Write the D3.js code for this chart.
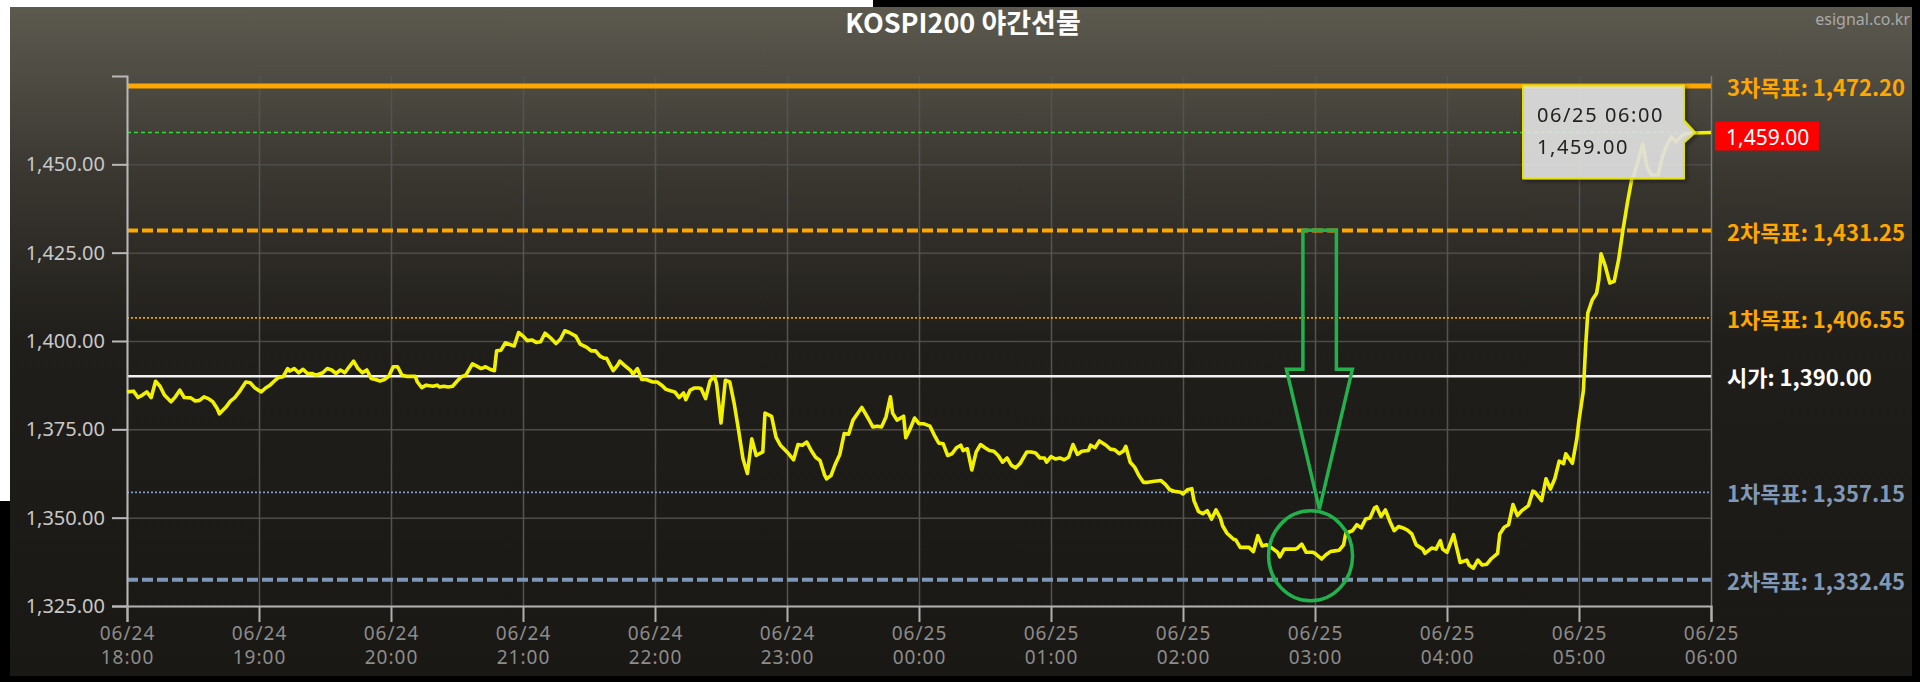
<!DOCTYPE html>
<html>
<head>
<meta charset="utf-8">
<script src="https://cdn.jsdelivr.net/npm/d3@7"></script>
<style>
    body { margin: 0; background: #000; overflow: hidden; }
    svg { display: block; }
</style>
</head>
<body>
<svg id="chart" width="1920" height="682"></svg>
<script>
const chartTitle = "KOSPI200 야간선물";
const watermark = "esignal.co.kr";
const sessionStart = new Date(2024, 5, 24, 18, 0);
const sessionEnd = new Date(2024, 5, 25, 6, 0);
const priceTicks = [1325, 1350, 1375, 1400, 1425, 1450];
const priceTop = 1475;

// target / reference levels (top to bottom)
const targetNames = ["3차목표", "2차목표", "1차목표", "시가", "1차목표", "2차목표"];
const targetValues = [1472.20, 1431.25, 1406.55, 1390.00, 1357.15, 1332.45];
const lastPrice = 1459.00;

// [minutes after 18:00, price]
const pricePoints = [
    [0,1385.6],[3,1385.8],[5,1384.0],[7,1384.7],[9,1385.6],[11,1384.0],[13,1388.6],[15,1387.2],[17,1384.7],[20,1382.8],[22,1384.2],[24,1386.1],[26,1384.0],[29,1383.9],[31,1383.0],[33,1383.2],[35,1384.2],[37,1383.7],[39,1382.8],[41,1380.9],[42,1379.4],[45,1381.3],[47,1383.0],[49,1384.0],[51,1385.6],[54,1388.4],[56,1388.2],[58,1386.8],
    [61,1385.6],[63,1386.7],[65,1387.5],[67,1388.7],[69,1389.7],[71,1389.9],[73,1392.2],[74,1391.5],[76,1392.2],[78,1391.0],[80,1392.0],[82,1390.8],[84,1390.8],[86,1390.3],[89,1391.0],[91,1392.2],[93,1391.8],[95,1390.8],[97,1391.8],[99,1391.0],[101,1392.7],[103,1394.3],[105,1392.2],[107,1391.0],[109,1391.8],[111,1389.4],[113,1389.1],[115,1388.7],[117,1389.1],[119,1390.0],
    [121,1392.7],[123,1392.7],[125,1390.3],[127,1390.0],[131,1390.0],[132,1388.4],[134,1386.8],[136,1387.5],[139,1387.2],[141,1387.5],[142,1387.0],[144,1387.2],[146,1387.0],[148,1387.2],[150,1388.6],[152,1389.9],[154,1390.3],[157,1393.5],[159,1392.9],[161,1392.2],[163,1392.7],[165,1392.0],[167,1391.6],[168,1397.2],[170,1397.4],[172,1399.5],[174,1399.0],[176,1398.6],[178,1402.4],
    [180,1401.4],[182,1400.1],[184,1400.3],[186,1399.6],[188,1399.8],[190,1402.2],[193,1400.6],[195,1399.3],[197,1400.5],[199,1402.9],[201,1402.4],[204,1401.4],[206,1399.1],[209,1398.2],[211,1397.2],[213,1397.2],[215,1395.7],[217,1395.1],[218,1395.1],[221,1391.6],[223,1393.2],[224,1394.3],[226,1393.2],[229,1391.6],[230,1390.6],[232,1392.2],[234,1389.1],[236,1389.1],[239,1388.4],
    [241,1388.4],[243,1387.5],[245,1386.3],[247,1385.9],[249,1385.6],[251,1384.0],[253,1385.3],[254,1383.4],[256,1386.1],[258,1386.7],[260,1386.7],[261,1386.5],[263,1383.7],[265,1388.7],[267,1390.0],[268,1387.8],[270,1376.8],[272,1388.9],[274,1388.4],[276,1382.3],[278,1374.7],[280,1366.7],[282,1362.5],[284,1372.3],[286,1367.6],[289,1368.6],[290,1379.6],[293,1378.7],[295,1372.8],[297,1370.5],
    [300,1368.6],[303,1366.4],[305,1370.7],[307,1370.5],[309,1371.4],[311,1369.0],[313,1367.1],[315,1366.2],[317,1362.2],[318,1361.0],[320,1361.9],[322,1365.2],[324,1367.9],[326,1373.8],[328,1373.6],[330,1377.6],[332,1379.4],[334,1381.2],[337,1378.0],[339,1375.7],[341,1375.9],[343,1375.7],[345,1378.5],[347,1384.2],[348,1379.6],[350,1377.6],[353,1378.7],[354,1372.6],[356,1375.2],[358,1378.2],
    [360,1376.6],[362,1376.6],[365,1375.9],[367,1373.3],[369,1371.1],[371,1370.9],[373,1367.6],[375,1368.1],[377,1369.8],[379,1370.5],[380,1369.0],[382,1369.5],[384,1363.5],[386,1368.6],[388,1370.7],[390,1369.8],[392,1369.0],[394,1368.8],[396,1367.6],[398,1365.7],[400,1366.9],[402,1364.8],[404,1364.1],[406,1365.4],[409,1368.6],[411,1368.6],[413,1368.3],[415,1366.9],[417,1366.9],[418,1365.7],
    [420,1367.3],[422,1366.6],[424,1366.9],[426,1366.4],[428,1367.1],[430,1370.7],[432,1367.9],[434,1368.8],[437,1369.0],[438,1370.5],[440,1369.8],[442,1371.7],[445,1370.5],[447,1369.4],[449,1369.2],[451,1368.1],[453,1368.9],[454,1370.2],[456,1365.7],[458,1364.3],[460,1361.9],[462,1360.0],[464,1360.0],[467,1360.3],[470,1360.5],[472,1359.4],[474,1357.9],[476,1357.5],[479,1357.2],
    [480,1356.7],[482,1357.9],[484,1358.2],[485,1354.8],[487,1351.8],[489,1351.1],[491,1352.0],[493,1349.6],[495,1352.2],[497,1349.9],[498,1347.7],[500,1345.6],[503,1343.9],[504,1343.7],[506,1341.6],[508,1341.6],[510,1341.6],[512,1340.4],[514,1344.9],[516,1342.0],[518,1342.3],[520,1341.6],[523,1340.2],[524,1338.9],[526,1341.1],[529,1341.1],[531,1341.1],[532,1341.4],[534,1342.5],[536,1340.2],[539,1340.2],
    [540,1339.9],[543,1338.3],[545,1339.5],[547,1340.4],[549,1340.6],[551,1340.8],[553,1342.3],[554,1345.6],[557,1346.3],[559,1348.0],[561,1347.1],[563,1349.6],[565,1349.9],[567,1352.7],[568,1353.1],[570,1350.3],[572,1352.2],[574,1349.0],[576,1346.3],[578,1347.5],[580,1347.1],[582,1346.5],[584,1345.4],[586,1342.3],[589,1341.1],[590,1339.9],[593,1341.4],[595,1341.1],[597,1343.5],[598,1341.1],
    [600,1340.2],[603,1345.2],[604,1342.5],[606,1337.3],[609,1338.0],[610,1336.6],[612,1335.7],[614,1338.0],[616,1336.6],[618,1336.8],[620,1338.3],[623,1339.9],[624,1345.4],[626,1347.3],[628,1348.0],[630,1353.7],[632,1350.6],[634,1352.0],[637,1353.4],[639,1357.5],[640,1357.2],[643,1354.8],[645,1361.0],[647,1358.1],[649,1361.0],[651,1366.0],[653,1365.3],[654,1368.1],[657,1365.4],[659,1372.3],
    [660,1377.6],[662,1386.0],[663,1398.4],[664,1407.9],[666,1411.6],[668,1413.5],[669,1417.3],[670,1424.7],[672,1421.1],[674,1416.4],[676,1416.9],[678,1423.0],[680,1431.5],[682,1439.1],[684,1445.9],[685,1447.0],[689,1455.7],[691,1449.0],[693,1447.0],[696,1447.0],[698,1452.4],[700,1455.5],[702,1457.8],[704,1456.4],[707,1458.2],[709,1458.8],[720,1459.0]
];

// hand-drawn annotation anchors (minutes after 18:00, price)
const arrowTip = [542, 1352.4];
const circleCenter = [538.5, 1339.2];

const targetStyles = [
    {stroke: "#ffa600", width: 5, dash: null, text: "#ffa600"},
    {stroke: "#ffa600", width: 4, dash: "11,4", text: "#ffa600"},
    {stroke: "#eea400", width: 1.8, dash: "2,2", text: "#ffa600"},
    {stroke: "#f2f2f2", width: 2.5, dash: null, text: "#ffffff"},
    {stroke: "#7f9dc6", width: 1.8, dash: "2,2", text: "#8099b9"},
    {stroke: "#7e97b6", width: 4, dash: "11,4", text: "#8099b9"}
];

const svg = d3.select("svg#chart");
const plot = {left: 127, right: 1711, top: 76, bottom: 606};
const numFmt = d3.format(",.2f");
const atMinute = m => d3.timeMinute.offset(sessionStart, m);

let x = d3.scaleTime()
    .domain([sessionStart, sessionEnd])
    .range([plot.left, plot.right]);
let y = d3.scaleLinear()
    .domain([priceTicks[0], priceTop])
    .range([plot.bottom, plot.top]);

// screenshot frame (white / black borders)
svg.append("rect").attr("x", 0).attr("y", 0).attr("width", 1920).attr("height", 682).style("fill", "#000");
svg.append("rect").attr("x", 0).attr("y", 0).attr("width", 873).attr("height", 8).style("fill", "#fff");
svg.append("rect").attr("x", 0).attr("y", 0).attr("width", 10).attr("height", 501).style("fill", "#fff");

let defs = svg.append("defs");
let grad = defs.append("linearGradient")
    .attr("id", "bg")
    .attr("gradientUnits", "userSpaceOnUse")
    .attr("x1", 0).attr("y1", 7).attr("x2", 0).attr("y2", 676);
grad.append("stop").attr("offset", "0%").attr("stop-color", "#5c5a4f");
grad.append("stop").attr("offset", "25%").attr("stop-color", "#3a3731");
grad.append("stop").attr("offset", "50%").attr("stop-color", "#201e1a");
grad.append("stop").attr("offset", "100%").attr("stop-color", "#1a1814");

let shadow = defs.append("filter").attr("id", "shadow").attr("x", "-10%").attr("y", "-10%").attr("width", "130%").attr("height", "130%");
shadow.append("feDropShadow").attr("dx", 2).attr("dy", 2).attr("stdDeviation", 2).attr("flood-color", "#000").attr("flood-opacity", 0.5);

svg.append("rect")
    .attr("x", 10).attr("y", 7)
    .attr("width", 1902).attr("height", 669)
    .style("fill", "url(#bg)");

// title + watermark
svg.append("text")
    .attr("x", 963).attr("y", 33)
    .attr("text-anchor", "middle")
    .style("font-family", "'Noto Sans CJK KR', 'Noto Sans', sans-serif")
    .style("font-weight", "bold")
    .style("font-size", "27px")
    .style("fill", "#ffffff")
    .text(chartTitle);
svg.append("text")
    .attr("x", 1910).attr("y", 25)
    .attr("text-anchor", "end")
    .style("font-family", "'Noto Sans', sans-serif")
    .style("font-size", "16px")
    .style("fill", "#a9a9a9")
    .text(watermark);

// gridlines
let hGrid = d3.axisLeft(y)
    .tickValues(priceTicks.concat([priceTop]))
    .tickSize(-(plot.right - plot.left))
    .tickFormat("");
svg.append("g")
    .attr("transform", `translate(${plot.left}, 0)`)
    .call(hGrid)
    .call(g => g.select(".domain").remove())
    .call(g => g.selectAll("line").style("stroke", "#4e4c48").style("stroke-width", 1.5));

let vGrid = d3.axisBottom(x)
    .ticks(d3.timeHour.every(1))
    .tickSize(-(plot.bottom - plot.top))
    .tickFormat("");
svg.append("g")
    .attr("transform", `translate(0, ${plot.bottom})`)
    .call(vGrid)
    .call(g => g.select(".domain").remove())
    .call(g => g.selectAll("line")
        .style("stroke", (d, i, n) => i === n.length - 1 ? "#7a7a7a" : "#55534f")
        .style("stroke-width", 1.5));

// target levels
targetValues.forEach((v, i) => {
    let st = targetStyles[i];
    svg.append("line")
        .attr("x1", plot.left).attr("x2", plot.right)
        .attr("y1", y(v)).attr("y2", y(v))
        .style("stroke", st.stroke)
        .style("stroke-width", st.width)
        .style("stroke-dasharray", st.dash);
    svg.append("text")
        .attr("x", 1727).attr("y", y(v))
        .attr("dominant-baseline", "central")
        .style("font-family", "'Noto Sans CJK KR', sans-serif")
        .style("font-weight", "bold")
        .style("font-size", "22px")
        .style("fill", st.text)
        .text(`${targetNames[i]}: ${numFmt(v)}`);
});

// current price line
svg.append("line")
    .attr("x1", plot.left).attr("x2", plot.right)
    .attr("y1", y(lastPrice)).attr("y2", y(lastPrice))
    .style("stroke", "#30dc30")
    .style("stroke-width", 1.5)
    .style("stroke-dasharray", "4,3");

// axes
let leftAxis = d3.axisLeft(y)
    .tickValues(priceTicks)
    .tickSize(15)
    .tickSizeOuter(15)
    .tickPadding(7)
    .tickFormat(numFmt);
svg.append("g")
    .attr("transform", `translate(${plot.left}, 0)`)
    .call(leftAxis)
    .call(g => g.selectAll("path, line").style("stroke", "#b8b8b8").style("stroke-width", 2))
    .call(g => g.selectAll("text")
        .style("font-family", "'Noto Sans', sans-serif")
        .style("font-size", "20px")
        .style("fill", "#c8c8c8"));

let bottomAxis = d3.axisBottom(x)
    .ticks(d3.timeHour.every(1))
    .tickSize(16)
    .tickSizeOuter(16)
    .tickFormat("");
let xAxisG = svg.append("g")
    .attr("transform", `translate(0, ${plot.bottom})`)
    .call(bottomAxis)
    .call(g => g.selectAll("path, line").style("stroke", "#b0b0b0").style("stroke-width", 2));
xAxisG.selectAll(".tick").each(function (d) {
    let t = d3.select(this).append("text")
        .attr("text-anchor", "middle")
        .style("font-family", "'Noto Sans', sans-serif")
        .style("font-size", "19px")
        .style("letter-spacing", "1px")
        .style("fill", "#8c8c8c");
    t.append("tspan").attr("x", 0).attr("y", 34).text(d3.timeFormat("%m/%d")(d));
    t.append("tspan").attr("x", 0).attr("y", 58).text(d3.timeFormat("%H:%M")(d));
});

// price series
let priceLine = d3.line()
    .x(d => x(atMinute(d[0])))
    .y(d => y(d[1]));
svg.append("path")
    .datum(pricePoints)
    .attr("d", priceLine)
    .style("fill", "none")
    .style("stroke", "#f2f200")
    .style("stroke-width", 3.6)
    .style("stroke-linejoin", "round");

// last price badge
let lastY = y(lastPrice);
svg.append("rect")
    .attr("x", plot.right + 4).attr("y", lastY - 11)
    .attr("width", 104).attr("height", 29)
    .style("fill", "#ff0000");
svg.append("text")
    .attr("x", plot.right + 15).attr("y", lastY + 4)
    .attr("dominant-baseline", "central")
    .style("font-family", "'Noto Sans', sans-serif")
    .style("font-size", "21px")
    .style("fill", "#ffffff")
    .text(numFmt(lastPrice));

// tooltip
let lastPoint = pricePoints[pricePoints.length - 1];
let tipX = x(atMinute(lastPoint[0])) - 16;
let tipY = y(lastPoint[1]);
let tip = svg.append("g").attr("filter", "url(#shadow)");
tip.append("path")
    .attr("d", `M${tipX - 172},${tipY - 47} H${tipX - 11} V${tipY - 12} L${tipX},${tipY} L${tipX - 11},${tipY + 10} V${tipY + 46} H${tipX - 172} Z`)
    .style("fill", "#e6e6e6")
    .style("fill-opacity", 0.86)
    .style("stroke", "#e4e400")
    .style("stroke-width", 2)
    .style("stroke-linejoin", "round");
tip.append("text")
    .attr("x", tipX - 158).attr("y", tipY - 11)
    .style("font-family", "'Noto Sans', sans-serif")
    .style("font-size", "20px")
    .style("letter-spacing", "1.6px")
    .style("fill", "#222")
    .text(d3.timeFormat("%m/%d %H:%M")(atMinute(lastPoint[0])));
tip.append("text")
    .attr("x", tipX - 158).attr("y", tipY + 21)
    .style("font-family", "'Noto Sans', sans-serif")
    .style("font-size", "20px")
    .style("letter-spacing", "1.6px")
    .style("fill", "#222")
    .text(numFmt(lastPoint[1]));

// green hand-drawn annotation
let ax = x(atMinute(arrowTip[0]));
let ay = y(arrowTip[1]);
svg.append("path")
    .attr("d", `M${ax - 16.5},${ay - 279} H${ax + 17} V${ay - 140} H${ax + 33} L${ax},${ay} L${ax - 33},${ay - 140} H${ax - 16.5} Z`)
    .style("fill", "none")
    .style("stroke", "#22b14c")
    .style("stroke-width", 3.5)
    .style("stroke-linejoin", "miter");
svg.append("ellipse")
    .attr("cx", x(atMinute(circleCenter[0])))
    .attr("cy", y(circleCenter[1]))
    .attr("rx", 42).attr("ry", 45)
    .style("fill", "none")
    .style("stroke", "#22b14c")
    .style("stroke-width", 3.5);
</script>
</body>
</html>
